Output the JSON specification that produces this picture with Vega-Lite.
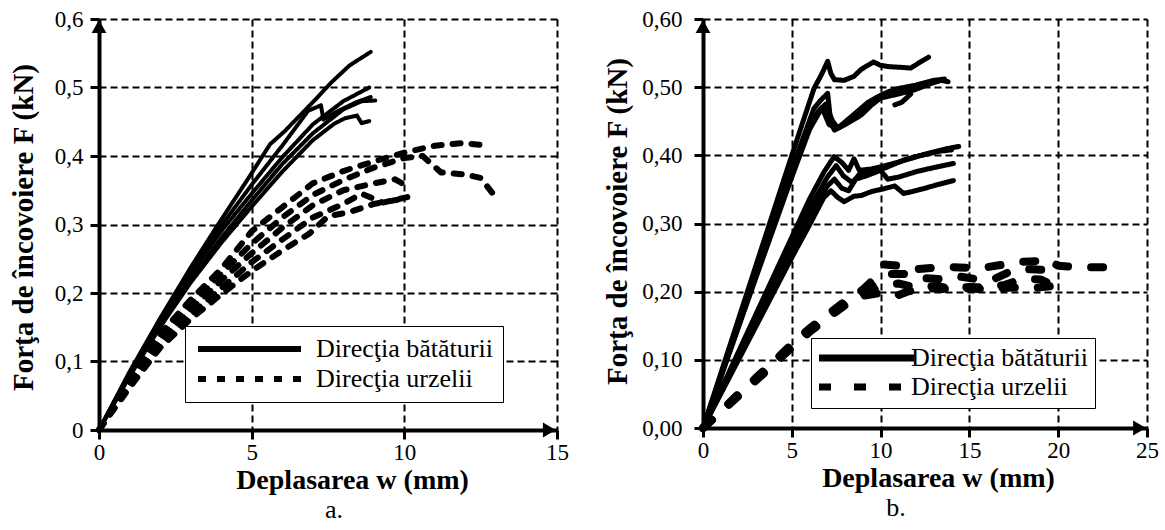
{
"$schema": "https://vega.github.io/schema/vega-lite/v6.json",
"background": "white",
"padding": {"left": 8, "top": 8, "right": 4, "bottom": 4},
"bounds": "flush",
"spacing": 146,
"config": {
  "font": "Liberation Serif",
  "view": {"stroke": null},
  "axis": {"grid": true, "gridColor": "black", "gridDash": [7, 4], "gridWidth": 2, "gridOpacity": 1,
    "domainColor": "black", "domainWidth": 4, "tickColor": "black", "tickWidth": 3, "tickSize": 9,
    "labelFont": "Liberation Serif", "labelFontSize": 23, "labelColor": "black", "labelPadding": 2,
    "labelFlush": false, "labelOverlap": false,
    "titleFont": "Liberation Serif", "titleFontSize": 28, "titleFontWeight": "bold", "titleColor": "black"},
  "legend": {"labelFont": "Liberation Serif"},
  "title": {"font": "Liberation Serif"}
},
"datasets": {
  "a": [
    {"c":"s1","d":"B","i":0,"x":0,"y":0},{"c":"s1","d":"B","i":1,"x":1,"y":0.085},{"c":"s1","d":"B","i":2,"x":2,"y":0.163},{"c":"s1","d":"B","i":3,"x":3,"y":0.237},{"c":"s1","d":"B","i":4,"x":3.9,"y":0.3},{"c":"s1","d":"B","i":5,"x":4.4,"y":0.334},{"c":"s1","d":"B","i":6,"x":4.9,"y":0.368},{"c":"s1","d":"B","i":7,"x":5.6,"y":0.417},{"c":"s1","d":"B","i":8,"x":6.1,"y":0.437},{"c":"s1","d":"B","i":9,"x":6.6,"y":0.46},{"c":"s1","d":"B","i":10,"x":7.1,"y":0.483},{"c":"s1","d":"B","i":11,"x":7.6,"y":0.507},{"c":"s1","d":"B","i":12,"x":8.2,"y":0.532},{"c":"s1","d":"B","i":13,"x":8.9,"y":0.552},
    {"c":"s2","d":"B","i":0,"x":0,"y":0},{"c":"s2","d":"B","i":1,"x":1,"y":0.083},{"c":"s2","d":"B","i":2,"x":2,"y":0.16},{"c":"s2","d":"B","i":3,"x":3,"y":0.232},{"c":"s2","d":"B","i":4,"x":4,"y":0.298},{"c":"s2","d":"B","i":5,"x":5,"y":0.358},{"c":"s2","d":"B","i":6,"x":6,"y":0.415},{"c":"s2","d":"B","i":7,"x":6.85,"y":0.466},{"c":"s2","d":"B","i":8,"x":7.27,"y":0.474},{"c":"s2","d":"B","i":9,"x":7.35,"y":0.453},{"c":"s2","d":"B","i":10,"x":7.8,"y":0.465},{"c":"s2","d":"B","i":11,"x":8.4,"y":0.478},{"c":"s2","d":"B","i":12,"x":8.9,"y":0.486},
    {"c":"s3","d":"B","i":0,"x":0,"y":0},{"c":"s3","d":"B","i":1,"x":1,"y":0.082},{"c":"s3","d":"B","i":2,"x":2,"y":0.158},{"c":"s3","d":"B","i":3,"x":3,"y":0.228},{"c":"s3","d":"B","i":4,"x":4,"y":0.29},{"c":"s3","d":"B","i":5,"x":5,"y":0.345},{"c":"s3","d":"B","i":6,"x":6,"y":0.398},{"c":"s3","d":"B","i":7,"x":7,"y":0.446},{"c":"s3","d":"B","i":8,"x":8,"y":0.48},{"c":"s3","d":"B","i":9,"x":8.85,"y":0.5},
    {"c":"s4","d":"B","i":0,"x":0,"y":0},{"c":"s4","d":"B","i":1,"x":1,"y":0.08},{"c":"s4","d":"B","i":2,"x":2,"y":0.153},{"c":"s4","d":"B","i":3,"x":3,"y":0.22},{"c":"s4","d":"B","i":4,"x":4,"y":0.28},{"c":"s4","d":"B","i":5,"x":5,"y":0.335},{"c":"s4","d":"B","i":6,"x":6,"y":0.388},{"c":"s4","d":"B","i":7,"x":7,"y":0.433},{"c":"s4","d":"B","i":8,"x":8,"y":0.468},{"c":"s4","d":"B","i":9,"x":8.6,"y":0.48},{"c":"s4","d":"B","i":10,"x":9.05,"y":0.481},
    {"c":"s5","d":"B","i":0,"x":0,"y":0},{"c":"s5","d":"B","i":1,"x":1,"y":0.078},{"c":"s5","d":"B","i":2,"x":2,"y":0.15},{"c":"s5","d":"B","i":3,"x":3,"y":0.215},{"c":"s5","d":"B","i":4,"x":4,"y":0.273},{"c":"s5","d":"B","i":5,"x":5,"y":0.326},{"c":"s5","d":"B","i":6,"x":6,"y":0.377},{"c":"s5","d":"B","i":7,"x":7,"y":0.423},{"c":"s5","d":"B","i":8,"x":7.7,"y":0.447},{"c":"s5","d":"B","i":9,"x":8.05,"y":0.455},{"c":"s5","d":"B","i":10,"x":8.45,"y":0.459},{"c":"s5","d":"B","i":11,"x":8.6,"y":0.448},{"c":"s5","d":"B","i":12,"x":8.85,"y":0.451},
    {"c":"d1","d":"U","i":0,"x":0,"y":0},{"c":"d1","d":"U","i":1,"x":1,"y":0.075},{"c":"d1","d":"U","i":2,"x":2,"y":0.14},{"c":"d1","d":"U","i":3,"x":3,"y":0.19},{"c":"d1","d":"U","i":4,"x":4,"y":0.235},{"c":"d1","d":"U","i":5,"x":5,"y":0.29},{"c":"d1","d":"U","i":6,"x":6,"y":0.325},{"c":"d1","d":"U","i":7,"x":7,"y":0.36},{"c":"d1","d":"U","i":8,"x":8,"y":0.378},{"c":"d1","d":"U","i":9,"x":9,"y":0.392},{"c":"d1","d":"U","i":10,"x":10,"y":0.405},{"c":"d1","d":"U","i":11,"x":11,"y":0.415},{"c":"d1","d":"U","i":12,"x":11.9,"y":0.419},{"c":"d1","d":"U","i":13,"x":12.8,"y":0.415},
    {"c":"d2","d":"U","i":0,"x":0,"y":0},{"c":"d2","d":"U","i":1,"x":1,"y":0.072},{"c":"d2","d":"U","i":2,"x":2,"y":0.135},{"c":"d2","d":"U","i":3,"x":3,"y":0.183},{"c":"d2","d":"U","i":4,"x":4,"y":0.228},{"c":"d2","d":"U","i":5,"x":5,"y":0.272},{"c":"d2","d":"U","i":6,"x":6,"y":0.31},{"c":"d2","d":"U","i":7,"x":7,"y":0.343},{"c":"d2","d":"U","i":8,"x":8,"y":0.365},{"c":"d2","d":"U","i":9,"x":9,"y":0.383},{"c":"d2","d":"U","i":10,"x":10,"y":0.397},{"c":"d2","d":"U","i":11,"x":10.6,"y":0.4},{"c":"d2","d":"U","i":12,"x":11.2,"y":0.376},{"c":"d2","d":"U","i":13,"x":12,"y":0.373},{"c":"d2","d":"U","i":14,"x":12.5,"y":0.368},{"c":"d2","d":"U","i":15,"x":12.95,"y":0.342},
    {"c":"d3","d":"U","i":0,"x":0,"y":0},{"c":"d3","d":"U","i":1,"x":1,"y":0.068},{"c":"d3","d":"U","i":2,"x":2,"y":0.13},{"c":"d3","d":"U","i":3,"x":3,"y":0.176},{"c":"d3","d":"U","i":4,"x":4,"y":0.218},{"c":"d3","d":"U","i":5,"x":5,"y":0.258},{"c":"d3","d":"U","i":6,"x":6,"y":0.295},{"c":"d3","d":"U","i":7,"x":7,"y":0.328},{"c":"d3","d":"U","i":8,"x":8,"y":0.35},{"c":"d3","d":"U","i":9,"x":9,"y":0.36},{"c":"d3","d":"U","i":10,"x":9.7,"y":0.366},{"c":"d3","d":"U","i":11,"x":10.2,"y":0.353},
    {"c":"d4","d":"U","i":0,"x":0,"y":0},{"c":"d4","d":"U","i":1,"x":1,"y":0.065},{"c":"d4","d":"U","i":2,"x":2,"y":0.125},{"c":"d4","d":"U","i":3,"x":3,"y":0.168},{"c":"d4","d":"U","i":4,"x":4,"y":0.207},{"c":"d4","d":"U","i":5,"x":5,"y":0.245},{"c":"d4","d":"U","i":6,"x":6,"y":0.278},{"c":"d4","d":"U","i":7,"x":7,"y":0.31},{"c":"d4","d":"U","i":8,"x":8,"y":0.33},{"c":"d4","d":"U","i":9,"x":8.6,"y":0.345},{"c":"d4","d":"U","i":10,"x":9.3,"y":0.332},{"c":"d4","d":"U","i":11,"x":10.1,"y":0.34},
    {"c":"d5","d":"U","i":0,"x":0,"y":0},{"c":"d5","d":"U","i":1,"x":1,"y":0.062},{"c":"d5","d":"U","i":2,"x":2,"y":0.12},{"c":"d5","d":"U","i":3,"x":3,"y":0.162},{"c":"d5","d":"U","i":4,"x":4,"y":0.198},{"c":"d5","d":"U","i":5,"x":5,"y":0.232},{"c":"d5","d":"U","i":6,"x":6,"y":0.262},{"c":"d5","d":"U","i":7,"x":6.9,"y":0.287},{"c":"d5","d":"U","i":8,"x":7.5,"y":0.312},{"c":"d5","d":"U","i":9,"x":8.2,"y":0.318},{"c":"d5","d":"U","i":10,"x":9,"y":0.33},{"c":"d5","d":"U","i":11,"x":10,"y":0.338}
  ],
  "b": [
    {"c":"h1","d":"B","i":0,"x":0,"y":0},{"c":"h1","d":"B","i":1,"x":1,"y":0.08},{"c":"h1","d":"B","i":2,"x":2,"y":0.16},{"c":"h1","d":"B","i":3,"x":3,"y":0.24},{"c":"h1","d":"B","i":4,"x":4,"y":0.32},{"c":"h1","d":"B","i":5,"x":5,"y":0.4},{"c":"h1","d":"B","i":6,"x":5.7,"y":0.455},{"c":"h1","d":"B","i":7,"x":6.25,"y":0.498},{"c":"h1","d":"B","i":8,"x":6.7,"y":0.52},{"c":"h1","d":"B","i":9,"x":7.02,"y":0.538},{"c":"h1","d":"B","i":10,"x":7.2,"y":0.52},{"c":"h1","d":"B","i":11,"x":7.4,"y":0.511},{"c":"h1","d":"B","i":12,"x":7.95,"y":0.51},{"c":"h1","d":"B","i":13,"x":8.5,"y":0.516},{"c":"h1","d":"B","i":14,"x":8.9,"y":0.526},{"c":"h1","d":"B","i":15,"x":9.6,"y":0.537},{"c":"h1","d":"B","i":16,"x":10,"y":0.532},{"c":"h1","d":"B","i":17,"x":10.5,"y":0.53},{"c":"h1","d":"B","i":18,"x":11.2,"y":0.529},{"c":"h1","d":"B","i":19,"x":11.7,"y":0.528},{"c":"h1","d":"B","i":20,"x":12.3,"y":0.538},{"c":"h1","d":"B","i":21,"x":12.7,"y":0.544},
    {"c":"h2","d":"B","i":0,"x":0,"y":0},{"c":"h2","d":"B","i":1,"x":1,"y":0.077},{"c":"h2","d":"B","i":2,"x":2,"y":0.154},{"c":"h2","d":"B","i":3,"x":3,"y":0.23},{"c":"h2","d":"B","i":4,"x":4,"y":0.305},{"c":"h2","d":"B","i":5,"x":5,"y":0.38},{"c":"h2","d":"B","i":6,"x":6.25,"y":0.469},{"c":"h2","d":"B","i":7,"x":6.6,"y":0.48},{"c":"h2","d":"B","i":8,"x":7.02,"y":0.491},{"c":"h2","d":"B","i":9,"x":7.2,"y":0.447},{"c":"h2","d":"B","i":10,"x":7.4,"y":0.437},{"c":"h2","d":"B","i":11,"x":8,"y":0.445},{"c":"h2","d":"B","i":12,"x":8.9,"y":0.459},{"c":"h2","d":"B","i":13,"x":9.5,"y":0.474},{"c":"h2","d":"B","i":14,"x":10,"y":0.484},{"c":"h2","d":"B","i":15,"x":11,"y":0.49},{"c":"h2","d":"B","i":16,"x":11.9,"y":0.496},{"c":"h2","d":"B","i":17,"x":12.8,"y":0.505},{"c":"h2","d":"B","i":18,"x":13.4,"y":0.51},{"c":"h2","d":"B","i":19,"x":13.8,"y":0.508},
    {"c":"h3","d":"B","i":0,"x":0,"y":0},{"c":"h3","d":"B","i":1,"x":1,"y":0.075},{"c":"h3","d":"B","i":2,"x":2,"y":0.15},{"c":"h3","d":"B","i":3,"x":3,"y":0.225},{"c":"h3","d":"B","i":4,"x":4,"y":0.3},{"c":"h3","d":"B","i":5,"x":5,"y":0.373},{"c":"h3","d":"B","i":6,"x":6,"y":0.44},{"c":"h3","d":"B","i":7,"x":6.5,"y":0.465},{"c":"h3","d":"B","i":8,"x":6.9,"y":0.475},{"c":"h3","d":"B","i":9,"x":7.3,"y":0.45},{"c":"h3","d":"B","i":10,"x":7.6,"y":0.44},{"c":"h3","d":"B","i":11,"x":8.3,"y":0.455},{"c":"h3","d":"B","i":12,"x":9,"y":0.47},{"c":"h3","d":"B","i":13,"x":9.8,"y":0.485},{"c":"h3","d":"B","i":14,"x":10.5,"y":0.494},{"c":"h3","d":"B","i":15,"x":11.2,"y":0.497},{"c":"h3","d":"B","i":16,"x":11.7,"y":0.49},{"c":"h3","d":"B","i":17,"x":11.2,"y":0.478},{"c":"h3","d":"B","i":18,"x":10.8,"y":0.474},
    {"c":"h4","d":"B","i":0,"x":0,"y":0},{"c":"h4","d":"B","i":1,"x":1,"y":0.074},{"c":"h4","d":"B","i":2,"x":2,"y":0.148},{"c":"h4","d":"B","i":3,"x":3,"y":0.222},{"c":"h4","d":"B","i":4,"x":4,"y":0.295},{"c":"h4","d":"B","i":5,"x":5,"y":0.368},{"c":"h4","d":"B","i":6,"x":6,"y":0.438},{"c":"h4","d":"B","i":7,"x":6.7,"y":0.47},{"c":"h4","d":"B","i":8,"x":7.1,"y":0.445},{"c":"h4","d":"B","i":9,"x":7.6,"y":0.44},{"c":"h4","d":"B","i":10,"x":8.5,"y":0.46},{"c":"h4","d":"B","i":11,"x":9.3,"y":0.478},{"c":"h4","d":"B","i":12,"x":10,"y":0.488},{"c":"h4","d":"B","i":13,"x":11,"y":0.498},{"c":"h4","d":"B","i":14,"x":12,"y":0.503},{"c":"h4","d":"B","i":15,"x":13,"y":0.51},{"c":"h4","d":"B","i":16,"x":13.6,"y":0.512},
    {"c":"l1","d":"B","i":0,"x":0,"y":0},{"c":"l1","d":"B","i":1,"x":1,"y":0.056},{"c":"l1","d":"B","i":2,"x":2,"y":0.112},{"c":"l1","d":"B","i":3,"x":3,"y":0.168},{"c":"l1","d":"B","i":4,"x":4,"y":0.224},{"c":"l1","d":"B","i":5,"x":5,"y":0.28},{"c":"l1","d":"B","i":6,"x":6,"y":0.336},{"c":"l1","d":"B","i":7,"x":6.8,"y":0.375},{"c":"l1","d":"B","i":8,"x":7.38,"y":0.398},{"c":"l1","d":"B","i":9,"x":7.8,"y":0.39},{"c":"l1","d":"B","i":10,"x":8.2,"y":0.378},{"c":"l1","d":"B","i":11,"x":8.5,"y":0.395},{"c":"l1","d":"B","i":12,"x":8.8,"y":0.378},{"c":"l1","d":"B","i":13,"x":9.5,"y":0.38},{"c":"l1","d":"B","i":14,"x":10.3,"y":0.385},{"c":"l1","d":"B","i":15,"x":11,"y":0.39},{"c":"l1","d":"B","i":16,"x":12,"y":0.398},{"c":"l1","d":"B","i":17,"x":13,"y":0.405},{"c":"l1","d":"B","i":18,"x":13.8,"y":0.41},{"c":"l1","d":"B","i":19,"x":14.4,"y":0.413},
    {"c":"l2","d":"B","i":0,"x":0,"y":0},{"c":"l2","d":"B","i":1,"x":1,"y":0.054},{"c":"l2","d":"B","i":2,"x":2,"y":0.108},{"c":"l2","d":"B","i":3,"x":3,"y":0.162},{"c":"l2","d":"B","i":4,"x":4,"y":0.216},{"c":"l2","d":"B","i":5,"x":5,"y":0.27},{"c":"l2","d":"B","i":6,"x":6,"y":0.322},{"c":"l2","d":"B","i":7,"x":7,"y":0.368},{"c":"l2","d":"B","i":8,"x":7.5,"y":0.385},{"c":"l2","d":"B","i":9,"x":7.9,"y":0.37},{"c":"l2","d":"B","i":10,"x":8.4,"y":0.36},{"c":"l2","d":"B","i":11,"x":8.8,"y":0.372},{"c":"l2","d":"B","i":12,"x":9.5,"y":0.375},{"c":"l2","d":"B","i":13,"x":10.3,"y":0.382},{"c":"l2","d":"B","i":14,"x":11.3,"y":0.393},{"c":"l2","d":"B","i":15,"x":12.3,"y":0.4},{"c":"l2","d":"B","i":16,"x":13.3,"y":0.406},{"c":"l2","d":"B","i":17,"x":14,"y":0.408},
    {"c":"l3","d":"B","i":0,"x":0,"y":0},{"c":"l3","d":"B","i":1,"x":1,"y":0.052},{"c":"l3","d":"B","i":2,"x":2,"y":0.104},{"c":"l3","d":"B","i":3,"x":3,"y":0.156},{"c":"l3","d":"B","i":4,"x":4,"y":0.208},{"c":"l3","d":"B","i":5,"x":5,"y":0.26},{"c":"l3","d":"B","i":6,"x":6,"y":0.31},{"c":"l3","d":"B","i":7,"x":7,"y":0.355},{"c":"l3","d":"B","i":8,"x":7.4,"y":0.365},{"c":"l3","d":"B","i":9,"x":7.8,"y":0.352},{"c":"l3","d":"B","i":10,"x":8.2,"y":0.348},{"c":"l3","d":"B","i":11,"x":8.6,"y":0.365},{"c":"l3","d":"B","i":12,"x":9.2,"y":0.37},{"c":"l3","d":"B","i":13,"x":10,"y":0.378},{"c":"l3","d":"B","i":14,"x":10.4,"y":0.365},{"c":"l3","d":"B","i":15,"x":11,"y":0.368},{"c":"l3","d":"B","i":16,"x":12,"y":0.376},{"c":"l3","d":"B","i":17,"x":13,"y":0.382},{"c":"l3","d":"B","i":18,"x":14.1,"y":0.388},
    {"c":"l4","d":"B","i":0,"x":0,"y":0},{"c":"l4","d":"B","i":1,"x":1,"y":0.05},{"c":"l4","d":"B","i":2,"x":2,"y":0.1},{"c":"l4","d":"B","i":3,"x":3,"y":0.15},{"c":"l4","d":"B","i":4,"x":4,"y":0.2},{"c":"l4","d":"B","i":5,"x":5,"y":0.25},{"c":"l4","d":"B","i":6,"x":6,"y":0.298},{"c":"l4","d":"B","i":7,"x":6.8,"y":0.338},{"c":"l4","d":"B","i":8,"x":7.2,"y":0.348},{"c":"l4","d":"B","i":9,"x":7.6,"y":0.338},{"c":"l4","d":"B","i":10,"x":7.95,"y":0.332},{"c":"l4","d":"B","i":11,"x":8.5,"y":0.34},{"c":"l4","d":"B","i":12,"x":8.9,"y":0.341},{"c":"l4","d":"B","i":13,"x":9.5,"y":0.347},{"c":"l4","d":"B","i":14,"x":10.2,"y":0.351},{"c":"l4","d":"B","i":15,"x":10.8,"y":0.355},{"c":"l4","d":"B","i":16,"x":11.3,"y":0.344},{"c":"l4","d":"B","i":17,"x":11.8,"y":0.347},{"c":"l4","d":"B","i":18,"x":12.4,"y":0.351},{"c":"l4","d":"B","i":19,"x":13.2,"y":0.357},{"c":"l4","d":"B","i":20,"x":14.1,"y":0.363},
    {"c":"u1","d":"U","i":0,"x":0,"y":0},{"c":"u1","d":"U","i":1,"x":1,"y":0.025},{"c":"u1","d":"U","i":2,"x":2,"y":0.05},{"c":"u1","d":"U","i":3,"x":3,"y":0.074},{"c":"u1","d":"U","i":4,"x":4,"y":0.098},{"c":"u1","d":"U","i":5,"x":5,"y":0.123},{"c":"u1","d":"U","i":6,"x":6,"y":0.146},{"c":"u1","d":"U","i":7,"x":7,"y":0.166},{"c":"u1","d":"U","i":8,"x":8,"y":0.186},{"c":"u1","d":"U","i":9,"x":9,"y":0.203},{"c":"u1","d":"U","i":10,"x":9.6,"y":0.218},{"c":"u1","d":"U","i":11,"x":10.2,"y":0.24},{"c":"u1","d":"U","i":12,"x":11,"y":0.238},{"c":"u1","d":"U","i":13,"x":12,"y":0.233},{"c":"u1","d":"U","i":14,"x":13,"y":0.235},{"c":"u1","d":"U","i":15,"x":14,"y":0.236},{"c":"u1","d":"U","i":16,"x":15,"y":0.235},{"c":"u1","d":"U","i":17,"x":16,"y":0.236},{"c":"u1","d":"U","i":18,"x":17,"y":0.24},{"c":"u1","d":"U","i":19,"x":18,"y":0.244},{"c":"u1","d":"U","i":20,"x":19,"y":0.245},{"c":"u1","d":"U","i":21,"x":19.3,"y":0.248},{"c":"u1","d":"U","i":22,"x":20,"y":0.238},{"c":"u1","d":"U","i":23,"x":21,"y":0.236},{"c":"u1","d":"U","i":24,"x":22,"y":0.236},{"c":"u1","d":"U","i":25,"x":22.8,"y":0.236},
    {"c":"u2","d":"U","i":0,"x":0,"y":0},{"c":"u2","d":"U","i":1,"x":1,"y":0.024},{"c":"u2","d":"U","i":2,"x":2,"y":0.049},{"c":"u2","d":"U","i":3,"x":3,"y":0.073},{"c":"u2","d":"U","i":4,"x":4,"y":0.097},{"c":"u2","d":"U","i":5,"x":5,"y":0.121},{"c":"u2","d":"U","i":6,"x":6,"y":0.144},{"c":"u2","d":"U","i":7,"x":7,"y":0.164},{"c":"u2","d":"U","i":8,"x":8,"y":0.184},{"c":"u2","d":"U","i":9,"x":9,"y":0.2},{"c":"u2","d":"U","i":10,"x":9.8,"y":0.213},{"c":"u2","d":"U","i":11,"x":10.5,"y":0.226},{"c":"u2","d":"U","i":12,"x":11.3,"y":0.226},{"c":"u2","d":"U","i":13,"x":12.5,"y":0.22},{"c":"u2","d":"U","i":14,"x":13.5,"y":0.218},{"c":"u2","d":"U","i":15,"x":14.5,"y":0.222},{"c":"u2","d":"U","i":16,"x":15.5,"y":0.218},{"c":"u2","d":"U","i":17,"x":16.5,"y":0.22},{"c":"u2","d":"U","i":18,"x":17.5,"y":0.232},{"c":"u2","d":"U","i":19,"x":18.5,"y":0.233},{"c":"u2","d":"U","i":20,"x":19.2,"y":0.232},
    {"c":"u3","d":"U","i":0,"x":0,"y":0},{"c":"u3","d":"U","i":1,"x":1,"y":0.024},{"c":"u3","d":"U","i":2,"x":2,"y":0.048},{"c":"u3","d":"U","i":3,"x":3,"y":0.072},{"c":"u3","d":"U","i":4,"x":4,"y":0.096},{"c":"u3","d":"U","i":5,"x":5,"y":0.12},{"c":"u3","d":"U","i":6,"x":6,"y":0.143},{"c":"u3","d":"U","i":7,"x":7,"y":0.163},{"c":"u3","d":"U","i":8,"x":8,"y":0.182},{"c":"u3","d":"U","i":9,"x":9,"y":0.197},{"c":"u3","d":"U","i":10,"x":10,"y":0.207},{"c":"u3","d":"U","i":11,"x":11,"y":0.212},{"c":"u3","d":"U","i":12,"x":12,"y":0.206},{"c":"u3","d":"U","i":13,"x":13,"y":0.208},{"c":"u3","d":"U","i":14,"x":14,"y":0.205},{"c":"u3","d":"U","i":15,"x":15,"y":0.207},{"c":"u3","d":"U","i":16,"x":16,"y":0.206},{"c":"u3","d":"U","i":17,"x":17,"y":0.21},{"c":"u3","d":"U","i":18,"x":18,"y":0.219},{"c":"u3","d":"U","i":19,"x":19,"y":0.218},{"c":"u3","d":"U","i":20,"x":19.5,"y":0.212},
    {"c":"u4","d":"U","i":0,"x":0,"y":0},{"c":"u4","d":"U","i":1,"x":1,"y":0.023},{"c":"u4","d":"U","i":2,"x":2,"y":0.047},{"c":"u4","d":"U","i":3,"x":3,"y":0.07},{"c":"u4","d":"U","i":4,"x":4,"y":0.094},{"c":"u4","d":"U","i":5,"x":5,"y":0.118},{"c":"u4","d":"U","i":6,"x":6,"y":0.141},{"c":"u4","d":"U","i":7,"x":7,"y":0.161},{"c":"u4","d":"U","i":8,"x":8,"y":0.18},{"c":"u4","d":"U","i":9,"x":9,"y":0.194},{"c":"u4","d":"U","i":10,"x":10,"y":0.198},{"c":"u4","d":"U","i":11,"x":10.5,"y":0.2},{"c":"u4","d":"U","i":12,"x":11,"y":0.195},{"c":"u4","d":"U","i":13,"x":11.5,"y":0.2},{"c":"u4","d":"U","i":14,"x":12.5,"y":0.205},{"c":"u4","d":"U","i":15,"x":13.5,"y":0.204},{"c":"u4","d":"U","i":16,"x":14.5,"y":0.205},{"c":"u4","d":"U","i":17,"x":15.5,"y":0.204},{"c":"u4","d":"U","i":18,"x":16.5,"y":0.205},{"c":"u4","d":"U","i":19,"x":17.5,"y":0.206},{"c":"u4","d":"U","i":20,"x":18.5,"y":0.205},{"c":"u4","d":"U","i":21,"x":19.6,"y":0.208}
  ],
  "arrA": [{"x": 14.75, "y": 0, "s": "triangle-right"}, {"x": 0, "y": 0.589, "s": "triangle-up"}],
  "arrB": [{"x": 24.58, "y": 0, "s": "triangle-right"}, {"x": 0, "y": 0.589, "s": "triangle-up"}]
},
"resolve": {"scale": {"strokeDash": "independent"}, "legend": {"strokeDash": "independent"}},
"hconcat": [
  {
    "width": 458, "height": 411,
    "title": {"text": "a.", "orient": "bottom", "anchor": "middle", "fontSize": 26, "fontWeight": "normal", "color": "black", "offset": 3, "dx": 6},
    "layer": [
      {
        "data": {"name": "a"},
        "mark": {"type": "line", "color": "black", "strokeCap": "round", "strokeJoin": "round"},
        "encoding": {
          "x": {"field": "x", "type": "quantitative", "scale": {"domain": [0, 15], "nice": false},
            "axis": {"values": [0, 5, 10, 15], "title": "Deplasarea w (mm)", "titleX": 253, "titleY": 58, "titleBaseline": "alphabetic"}},
          "y": {"field": "y", "type": "quantitative", "scale": {"domain": [0, 0.6], "nice": false},
            "axis": {"values": [0, 0.1, 0.2, 0.3, 0.4, 0.5, 0.6], "labelExpr": "datum.value == 0 ? '0' : replace(format(datum.value, '.1f'), '.', ',')", "labelPadding": 7,
              "title": "Forţa de încovoiere  F (kN)", "titleFontSize": 29, "titleX": -76, "titleY": 208, "titleBaseline": "middle"}},
          "detail": {"field": "c"},
          "order": {"field": "i"},
          "strokeDash": {"field": "d", "type": "nominal",
            "scale": {"domain": ["B", "U"], "range": [[1, 0], [8, 11]]},
            "legend": {"orient": "none", "legendX": 86, "legendY": 307, "title": null,
              "labelExpr": "datum.label == 'B' ? 'Direcţia bătăturii' : 'Direcţia urzelii'",
              "strokeColor": "black", "fillColor": "white", "padding": 10,
              "labelFontSize": 26, "labelColor": "black", "labelLimit": 0,
              "symbolType": "M0,0H103", "symbolSize": 4, "symbolStrokeWidth": 6, "symbolStrokeColor": "black",
              "symbolOffset": -10, "labelOffset": 105, "rowPadding": 4}},
          "strokeWidth": {"condition": {"test": "datum.d === 'U'", "value": 6}, "value": 4}
        }
      },
      {
        "data": {"name": "arrA"},
        "mark": {"type": "point", "filled": true, "color": "black", "opacity": 1, "size": 220},
        "encoding": {
          "x": {"field": "x", "type": "quantitative"},
          "y": {"field": "y", "type": "quantitative"},
          "shape": {"field": "s", "type": "nominal", "scale": null}
        }
      }
    ]
  },
  {
    "width": 444, "height": 409,
    "title": {"text": "b.", "orient": "bottom", "anchor": "middle", "fontSize": 26, "fontWeight": "normal", "color": "black", "offset": 3, "dx": -29},
    "layer": [
      {
        "data": {"name": "b"},
        "mark": {"type": "line", "color": "black", "strokeCap": "round", "strokeJoin": "round"},
        "encoding": {
          "x": {"field": "x", "type": "quantitative", "scale": {"domain": [0, 25], "nice": false},
            "axis": {"values": [0, 5, 10, 15, 20, 25], "title": "Deplasarea w (mm)", "titleX": 235, "titleY": 58, "titleBaseline": "alphabetic"}},
          "y": {"field": "y", "type": "quantitative", "scale": {"domain": [0, 0.6], "nice": false},
            "axis": {"values": [0, 0.1, 0.2, 0.3, 0.4, 0.5, 0.6], "labelExpr": "replace(format(datum.value, '.2f'), '.', ',')", "labelPadding": 12,
              "title": "Forţa de încovoiere F  (kN)", "titleFontSize": 29, "titleX": -86, "titleY": 202, "titleBaseline": "middle"}},
          "detail": {"field": "c"},
          "order": {"field": "i"},
          "strokeDash": {"field": "d", "type": "nominal",
            "scale": {"domain": ["B", "U"], "range": [[1, 0], [12, 23]]},
            "legend": {"orient": "none", "legendX": 108, "legendY": 319, "title": null,
              "labelExpr": "datum.label == 'B' ? 'Direcţia bătăturii' : 'Direcţia urzelii'",
              "strokeColor": "black", "fillColor": "white", "padding": 7,
              "labelFontSize": 26, "labelColor": "black", "labelLimit": 0,
              "symbolType": "M0,0H95", "symbolSize": 4, "symbolStrokeWidth": 7, "symbolStrokeColor": "black",
              "symbolOffset": -12, "labelOffset": 79, "rowPadding": 1}},
          "strokeWidth": {"condition": {"test": "datum.d === 'U'", "value": 8}, "value": 5}
        }
      },
      {
        "data": {"name": "arrB"},
        "mark": {"type": "point", "filled": true, "color": "black", "opacity": 1, "size": 220},
        "encoding": {
          "x": {"field": "x", "type": "quantitative"},
          "y": {"field": "y", "type": "quantitative"},
          "shape": {"field": "s", "type": "nominal", "scale": null}
        }
      }
    ]
  }
]
}
